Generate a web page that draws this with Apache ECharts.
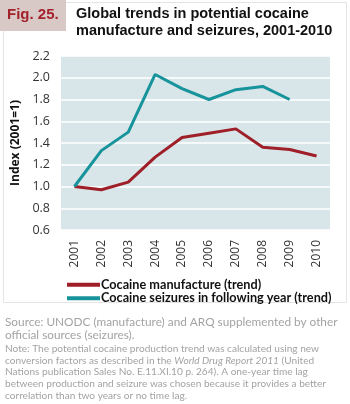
<!DOCTYPE html>
<html>
<head>
<meta charset="utf-8">
<script src="https://cdn.jsdelivr.net/npm/echarts@6/dist/echarts.min.js"></script>
<style>
html, body { margin: 0; padding: 0; background: #fff; }
#chart { width: 350px; height: 404px; }
</style>
</head>
<body>
<div id="chart"></div>
<script>
// data
const years = ['2001', '2002', '2003', '2004', '2005', '2006', '2007', '2008', '2009', '2010'];
const manufacture = [1.0, 0.97, 1.04, 1.27, 1.45, 1.49, 1.53, 1.36, 1.34, 1.28];
const seizures = [1.0, 1.33, 1.50, 2.03, 1.90, 1.80, 1.89, 1.92, 1.80, null];
const seriesNames = ['Cocaine manufacture (trend)', 'Cocaine seizures in following year (trend)'];

const red = '#9e1f28';
const teal = '#17939b';
const footGrey = '#a3a3a3';

const chart = echarts.init(document.getElementById('chart'));

chart.setOption({
    animation: false,
    backgroundColor: '#fff',
    textStyle: { fontFamily: 'Open Sans' },
    grid: {
        left: 61,
        top: 56,
        width: 269,
        height: 174,
        show: true,
        backgroundColor: '#d8e6e9',
        borderWidth: 0
    },
    legend: {
        orient: 'vertical',
        left: 62,
        top: 273,
        itemWidth: 33,
        itemHeight: 4,
        itemGap: 0,
        icon: 'rect',
        data: seriesNames,
        textStyle: {
            fontFamily: 'Lato',
            fontWeight: 'bold',
            fontSize: 12.7,
            color: '#111',
            padding: [0, 0, 0, -4],
            lineHeight: 13.5
        }
    },
    xAxis: {
        type: 'category',
        data: years,
        boundaryGap: true,
        axisLine: { show: false },
        axisTick: { show: false },
        axisLabel: {
            rotate: 90,
            margin: 10,
            fontSize: 12,
            color: '#333'
        }
    },
    yAxis: {
        type: 'value',
        min: 0.6,
        max: 2.2,
        interval: 0.2,
        name: 'Index (2001=1)',
        nameLocation: 'middle',
        nameGap: 38,
        nameTextStyle: {
            fontWeight: 'bold',
            fontSize: 12,
            color: '#111'
        },
        axisLine: { show: false },
        axisTick: { show: false },
        axisLabel: {
            margin: 11,
            fontSize: 12.5,
            color: '#333',
            formatter: v => v.toFixed(1)
        },
        splitLine: { lineStyle: { color: '#ffffff', width: 1.5 } }
    },
    series: [
        {
            name: seriesNames[0],
            type: 'line',
            data: manufacture,
            showSymbol: false,
            itemStyle: { color: red },
            lineStyle: { color: red, width: 3 }
        },
        {
            name: seriesNames[1],
            type: 'line',
            data: seizures,
            showSymbol: false,
            itemStyle: { color: teal },
            lineStyle: { color: teal, width: 3 }
        }
    ],
    graphic: [
        {
            type: 'rect',
            z: -10,
            shape: { x: 3.5, y: 2.5, width: 343, height: 300 },
            style: { fill: '#fff', stroke: '#e4e4e4', lineWidth: 1 }
        },
        {
            type: 'rect',
            shape: { x: 0, y: 0, width: 66, height: 31 },
            style: { fill: '#d8c9c7' }
        },
        {
            type: 'text',
            left: 7,
            top: 7,
            style: {
                text: 'Fig. 25.',
                fill: '#a3222b',
                font: 'bold 15px "Liberation Sans"'
            }
        },
        {
            type: 'text',
            left: 76,
            top: 5,
            style: {
                text: 'Global trends in potential cocaine\nmanufacture and seizures, 2001-2010',
                fill: '#111',
                font: 'bold 14.5px "Liberation Sans"',
                lineHeight: 17
            }
        },
        {
            type: 'text',
            left: 5,
            top: 315,
            style: {
                text: 'Source: UNODC (manufacture) and ARQ supplemented by other\nofficial sources (seizures).',
                fill: footGrey,
                font: '11.8px "Lato"',
                lineHeight: 13.5
            }
        },
        {
            type: 'text',
            left: 5,
            top: 344,
            style: {
                rich: {
                    n: { fill: footGrey, fontFamily: 'Lato', fontSize: 10.1, lineHeight: 11.6 },
                    i: { fill: footGrey, fontFamily: 'Lato', fontSize: 10.1, fontStyle: 'italic', lineHeight: 11.6 }
                },
                text: '{n|Note: The potential cocaine production trend was calculated using new}\n' +
                      '{n|conversion factors as described in the }{i|World Drug Report 2011}{n| (United}\n' +
                      '{n|Nations publication Sales No. E.11.XI.10 p. 264). A one-year time lag}\n' +
                      '{n|between production and seizure was chosen because it provides a better}\n' +
                      '{n|correlation than two years or no time lag.}'
            }
        }
    ]
});
</script>
</body>
</html>
